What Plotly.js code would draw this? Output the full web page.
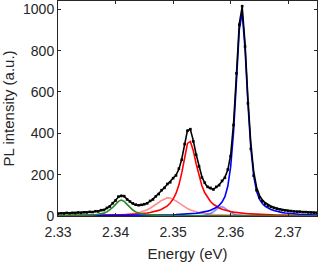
<!DOCTYPE html>
<html>
<head>
<meta charset="utf-8">
<script src="https://cdn.plot.ly/plotly-3.0.1.min.js"></script>
<style>
  html, body { margin: 0; padding: 0; background: #ffffff; }
  #chart { width: 319px; height: 264px; }
</style>
</head>
<body>
<div id="chart"></div>
<script>
// Photon energy sample points (eV)
var energy = [
  2.3300, 2.3305, 2.3310, 2.3315, 2.3320, 2.3325, 2.3330, 2.3335, 2.3340, 2.3345,
  2.3350, 2.3355, 2.3360, 2.3365, 2.3370, 2.3375, 2.3380, 2.3385, 2.3390, 2.3395,
  2.3400, 2.3405, 2.3410, 2.3415, 2.3420, 2.3425, 2.3430, 2.3435, 2.3440, 2.3445,
  2.3450, 2.3455, 2.3460, 2.3465, 2.3470, 2.3475, 2.3480, 2.3485, 2.3490, 2.3495,
  2.3500, 2.3505, 2.3510, 2.3515, 2.3520, 2.3525, 2.3530, 2.3535, 2.3540, 2.3545,
  2.3550, 2.3555, 2.3560, 2.3565, 2.3570, 2.3575, 2.3580, 2.3585, 2.3590, 2.3595,
  2.3600, 2.3605, 2.3610, 2.3615, 2.3620, 2.3625, 2.3630, 2.3635, 2.3640, 2.3645,
  2.3650, 2.3655, 2.3660, 2.3665, 2.3670, 2.3675, 2.3680, 2.3685, 2.3690, 2.3695,
  2.3700, 2.3705, 2.3710, 2.3715, 2.3720, 2.3725, 2.3730, 2.3735, 2.3740, 2.3745,
  2.3750
];

// Measured PL spectrum (dots)
var measuredPL = [
  11, 13, 12, 15, 13, 15, 14, 17, 15, 18,
  17, 20, 19, 23, 22, 28, 29, 39, 46, 62,
  75, 94, 97, 96, 80, 70, 61, 55, 52, 54,
  57, 61, 73, 80, 95, 106, 125, 136, 155, 163,
  183, 196, 229, 272, 348, 412, 420, 361, 296, 240,
  186, 161, 141, 136, 128, 141, 149, 170, 185, 225,
  290, 440, 690, 925, 1015, 820, 545, 325, 195, 125,
  90, 71, 58, 50, 44, 39, 35, 32, 29, 27,
  25, 24, 22, 21, 21, 19, 19, 17, 17, 16,
  15
];

// Total fit (black line)
var totalFit = [
  12.8, 13.1, 13.4, 13.8, 14.2, 14.6, 15.1, 15.5, 16.2, 16.9,
  17.7, 18.7, 19.9, 21.4, 23.5, 26.6, 30.8, 37.5, 47.2, 60.3,
  76.5, 91.8, 99.4, 94.5, 81.9, 68.8, 59.1, 53.3, 51.3, 52.6,
  56.3, 62.6, 70.9, 81.4, 93.9, 108, 123.1, 138.2, 152.6, 165.5,
  180, 198, 226, 275, 345, 415, 418, 366, 298, 237,
  190, 159, 140, 132, 131, 138, 151, 167, 188, 222,
  295, 446, 682, 931, 1011, 833, 567, 351, 214, 139,
  100, 78, 64, 54, 47, 42, 37, 34, 31, 28,
  26, 24.5, 23, 22, 21, 20, 19, 18, 17.5, 17,
  16.3
];

// Fitted peak components
var peakGreen = [
  1.1, 1.2, 1.35, 1.5, 1.65, 1.85, 2.1, 2.3, 2.7, 3.1,
  3.6, 4.2, 5.0, 6.1, 7.7, 10.2, 13.9, 19.9, 28.9, 41.2,
  56.4, 70.7, 77, 70.7, 56.4, 41.2, 28.9, 19.9, 13.9, 10.2,
  7.7, 6.1, 5.0, 4.2, 3.6, 3.1, 2.7, 2.3, 2.1, 1.85,
  1.65, 1.5, 1.35, 1.2, 1.1, 1.0, 0.95, 0.88, 0.82, 0.76,
  0.71, 0.67, 0.63, 0.6, 0.57, 0.54, 0.51, 0.48, 0.46, 0.44,
  0.42, 0.4, 0.38, 0.37, 0.35, 0.34, 0.33, 0.31, 0.3, 0.29,
  0.28, 0.27, 0.26, 0.25, 0.24, 0.23, 0.22, 0.22, 0.21, 0.2,
  0.2, 0.19, 0.18, 0.18, 0.17, 0.17, 0.16, 0.16, 0.15, 0.15,
  0.14
];

var peakPink = [
  1.2, 1.3, 1.4, 1.5, 1.6, 1.7, 1.8, 1.9, 2.0, 2.15,
  2.3, 2.5, 2.65, 2.85, 3.1, 3.35, 3.6, 3.95, 4.3, 4.75,
  5.2, 5.8, 6.5, 7.3, 8.3, 9.6, 11.3, 13.5, 16.2, 19.9,
  24.4, 30.3, 37.4, 45.7, 55.3, 65.4, 75.2, 83.2, 87.8, 87.2,
  81.9, 73.4, 63.3, 53.3, 44.0, 35.9, 29.1, 23.5, 19.0, 15.6,
  12.9, 11.0, 9.3, 7.9, 7.0, 6.3, 5.7, 5.1, 4.7, 4.2,
  3.9, 3.6, 3.3, 3.0, 2.8, 2.6, 2.4, 2.3, 2.1, 2.0,
  1.9, 1.76, 1.66, 1.55, 1.47, 1.39, 1.31, 1.24, 1.18, 1.13,
  1.08, 1.03, 0.98, 0.94, 0.9, 0.87, 0.83, 0.8, 0.77, 0.73,
  0.71
];

var peakRed = [
  1.57, 1.64, 1.72, 1.8, 1.89, 1.98, 2.08, 2.19, 2.31, 2.44,
  2.57, 2.72, 2.89, 3.07, 3.26, 3.47, 3.71, 3.97, 4.26, 4.58,
  4.95, 5.35, 5.8, 6.33, 6.91, 7.58, 8.35, 9.25, 10.3, 11.5,
  13.0, 14.8, 16.9, 19.6, 22.9, 27.1, 32.5, 39.6, 49.2, 62.5,
  81.5, 109, 149.6, 208.4, 284, 351, 360.6, 317, 252.7, 192.9,
  146.3, 112.3, 87.7, 69.9, 56.7, 46.7, 39.0, 33.1, 28.4, 24.6,
  21.5, 18.9, 16.8, 15.0, 13.5, 12.2, 11.0, 10.1, 9.2, 8.44,
  7.78, 7.19, 6.66, 6.2, 5.77, 5.39, 5.05, 4.73, 4.45, 4.19,
  3.95, 3.74, 3.54, 3.35, 3.18, 3.02, 2.87, 2.74, 2.61, 2.5,
  2.38
];

var peakLightBlue = [
  0.05, 0.06, 0.06, 0.06, 0.06, 0.07, 0.07, 0.07, 0.07, 0.08,
  0.08, 0.08, 0.09, 0.09, 0.09, 0.1, 0.1, 0.1, 0.11, 0.11,
  0.12, 0.12, 0.13, 0.14, 0.15, 0.15, 0.16, 0.17, 0.19, 0.2,
  0.21, 0.23, 0.25, 0.27, 0.29, 0.32, 0.35, 0.38, 0.42, 0.47,
  0.53, 0.59, 0.67, 0.77, 0.89, 1.04, 1.23, 1.48, 1.8, 2.3,
  3.1, 4.5, 7.2, 12.3, 20.5, 31.4, 41.6, 45, 38, 26.8,
  16.8, 9.9, 5.9, 3.8, 2.7, 2.05, 1.67, 1.37, 1.15, 0.98,
  0.84, 0.73, 0.64, 0.57, 0.5, 0.45, 0.41, 0.37, 0.34, 0.31,
  0.28, 0.26, 0.24, 0.22, 0.21, 0.19, 0.18, 0.17, 0.16, 0.15,
  0.14
];

var peakBlue = [
  0.84, 0.87, 0.89, 0.92, 0.96, 0.99, 1.02, 1.06, 1.1, 1.14,
  1.18, 1.22, 1.27, 1.32, 1.38, 1.43, 1.49, 1.56, 1.63, 1.7,
  1.78, 1.86, 1.95, 2.05, 2.15, 2.27, 2.39, 2.52, 2.66, 2.81,
  2.98, 3.16, 3.36, 3.58, 3.83, 4.1, 4.39, 4.72, 5.09, 5.5,
  5.98, 6.51, 7.11, 7.8, 8.6, 9.52, 10.6, 11.9, 13.4, 15.2,
  17.4, 20.2, 23.6, 28, 33.6, 41.1, 51.7, 67.3, 93.7, 143.6,
  239, 405.6, 648, 901, 984, 808, 544, 329, 193.7, 119.6,
  81.3, 60.2, 47, 37.8, 31.2, 26.1, 22.2, 19.0, 16.5, 14.5,
  12.7, 11.3, 10.2, 9.14, 8.27, 7.52, 6.86, 6.29, 5.78, 5.34,
  4.94
];

var xTicks = [2.33, 2.34, 2.35, 2.36, 2.37];
var xTickLabels = ['2.33', '2.34', '2.35', '2.36', '2.37'];
var yTicks = [0, 200, 400, 600, 800, 1000];
var yTickLabels = ['0', '200', '400', '600', '800', '1000'];

function curve(y, color) {
  return { x: energy, y: y, type: 'scatter', mode: 'lines',
           line: { color: color, width: 1.6 }, hoverinfo: 'skip', showlegend: false };
}

var traces = [
  curve(peakPink, 'rgba(255,0,0,0.45)'),
  curve(peakLightBlue, 'rgba(0,0,255,0.45)'),
  curve(peakRed, '#ff0000'),
  curve(peakBlue, '#0000ff'),
  curve(peakGreen, '#228b22'),
  { x: energy, y: measuredPL, type: 'scatter', mode: 'markers',
    marker: { color: '#000000', size: 2.6, symbol: 'square' }, showlegend: false },
  curve(totalFit, '#000000')
];

var axisCommon = {
  showgrid: false, zeroline: false,
  showline: true, linecolor: '#262626', linewidth: 1, mirror: 'ticks',
  ticks: 'inside', ticklen: 3, tickwidth: 1, tickcolor: '#262626',
  tickfont: { family: 'Liberation Sans, Arial, sans-serif', size: 14, color: '#262626' }
};

var layout = {
  width: 319, height: 264,
  margin: { l: 58, r: 2, t: 1, b: 48 },
  paper_bgcolor: '#ffffff', plot_bgcolor: '#ffffff',
  showlegend: false,
  xaxis: Object.assign({}, axisCommon, {
    range: [2.33, 2.375], tickvals: xTicks, ticktext: xTickLabels,
    ticklabelstandoff: 3,
    title: { text: 'Energy (eV)', standoff: 9,
             font: { family: 'Liberation Sans, Arial, sans-serif', size: 15, color: '#262626' } }
  }),
  yaxis: Object.assign({}, axisCommon, {
    range: [0, 1040], tickvals: yTicks, ticktext: yTickLabels,
    title: { text: 'PL intensity (a.u.)', standoff: 4,
             font: { family: 'Liberation Sans, Arial, sans-serif', size: 15, color: '#262626' } }
  })
};

Plotly.newPlot('chart', traces, layout, { displayModeBar: false, staticPlot: true });
</script>
</body>
</html>
